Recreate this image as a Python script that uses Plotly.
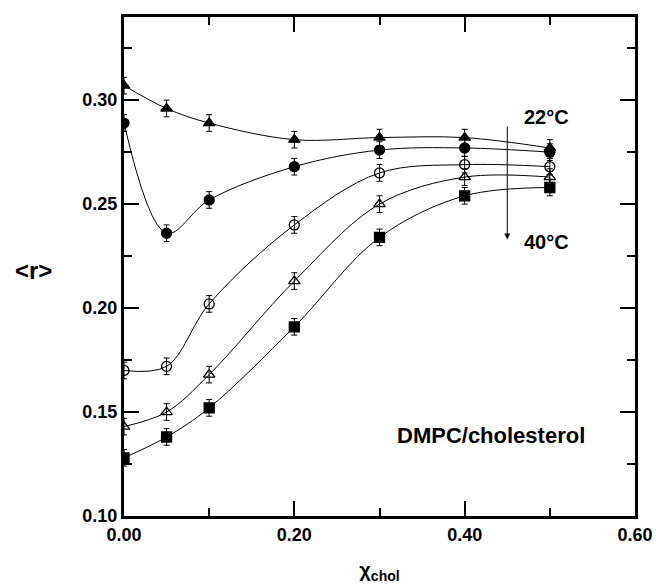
import plotly.graph_objects as go

x_chol = [0.0, 0.05, 0.1, 0.2, 0.3, 0.4, 0.5]

r_filled_triangle = [0.307, 0.296, 0.289, 0.281, 0.282, 0.282, 0.277]
r_filled_circle = [0.289, 0.236, 0.252, 0.268, 0.276, 0.277, 0.275]
r_open_circle = [0.170, 0.172, 0.202, 0.240, 0.265, 0.269, 0.268]
r_open_triangle = [0.143, 0.150, 0.168, 0.213, 0.250, 0.263, 0.263]
r_filled_square = [0.128, 0.138, 0.152, 0.191, 0.234, 0.254, 0.258]

err = [0.004, 0.004, 0.004, 0.004, 0.004, 0.004, 0.004]

series = [
    ("22 °C", r_filled_triangle, "triangle-up"),
    ("series 2", r_filled_circle, "circle"),
    ("series 3", r_open_circle, "circle-open"),
    ("series 4", r_open_triangle, "triangle-up-open"),
    ("40 °C", r_filled_square, "square"),
]

FONT = "Liberation Sans, Arial, Helvetica, sans-serif"

fig = go.Figure()
for name, vals, sym in series:
    fig.add_trace(go.Scatter(
        x=x_chol, y=vals, name=name,
        mode="lines+markers",
        line=dict(color="black", width=1, shape="spline", smoothing=1.0),
        marker=dict(symbol=sym, size=10, color="black",
                    line=dict(color="black", width=1.3)),
        error_y=dict(type="data", array=err, visible=True,
                     color="black", thickness=1, width=3),
        showlegend=False,
    ))

axis_common = dict(
    showline=True, linecolor="black", linewidth=3,
    mirror="allticks", ticks="inside", ticklen=15, tickwidth=2,
    tickcolor="black", showgrid=False, zeroline=False, automargin=False,
    tickfont=dict(family=FONT, size=18, color="black", weight="bold"),
)

fig.update_xaxes(
    range=[0, 0.6], tick0=0, dtick=0.2, tickformat=".2f",
    minor=dict(ticks="inside", ticklen=8, tickwidth=2, dtick=0.1, tickcolor="black"),
    title=dict(text="χ<sub>chol</sub>", font=dict(family=FONT, size=20, color="black", weight="bold"), standoff=20),
    **axis_common,
)
fig.update_yaxes(
    range=[0.10, 0.34], tick0=0.10, dtick=0.05, tickformat=".2f",
    minor=dict(ticks="inside", ticklen=8, tickwidth=2, dtick=0.025, tickcolor="black"),
    **axis_common,
)

fig.add_annotation(x=0.45, y=0.233, ax=0.45, ay=0.288, xref="x", yref="y",
                   axref="x", ayref="y", showarrow=True, arrowhead=2,
                   arrowsize=1.2, arrowwidth=1, arrowcolor="black", text="")
fig.add_annotation(x=0.496, y=0.292, xref="x", yref="y", text="22°C", showarrow=False,
                   font=dict(family=FONT, size=20, color="black", weight="bold"))
fig.add_annotation(x=0.496, y=0.232, xref="x", yref="y", text="40°C", showarrow=False,
                   font=dict(family=FONT, size=20, color="black", weight="bold"))
fig.add_annotation(x=0.431, y=0.1385, xref="x", yref="y", text="DMPC/cholesterol", showarrow=False,
                   font=dict(family=FONT, size=22, color="black", weight="bold"))

plot_w = 656 - 124 - 21
plot_h = 586 - 17 - 70
fig.add_annotation(x=(33 - 124) / plot_w, y=(586 - 70 - 270) / plot_h,
                   xref="paper", yref="paper", text="&lt;r&gt;", showarrow=False,
                   xanchor="center", yanchor="middle",
                   font=dict(family=FONT, size=24, color="black", weight="bold"))

fig.update_layout(
    width=656, height=586,
    margin=dict(l=124, r=21, t=17, b=70),
    paper_bgcolor="white", plot_bgcolor="white",
    font=dict(family=FONT, color="black"),
)

fig.write_html("out.html")
